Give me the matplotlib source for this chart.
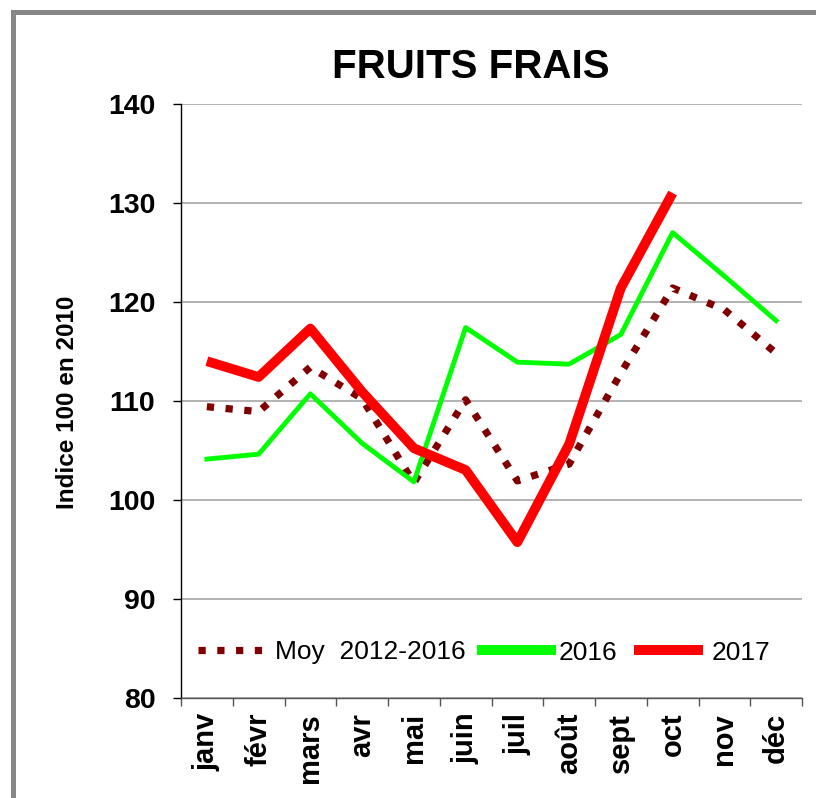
import numpy as np
import matplotlib
matplotlib.use("Agg")
import matplotlib.pyplot as plt
from matplotlib.patches import Rectangle

plt.rcParams['font.family'] = ['Liberation Sans', 'DejaVu Sans']

months = ["janv", "févr", "mars", "avr", "mai", "juin",
          "juil", "août", "sept", "oct", "nov", "déc"]
moy_2012_2016 = [109.4, 108.9, 113.4, 110.2, 101.7, 110.1,
                 101.9, 103.6, 112.8, 121.4, 119.2, 114.8]
val_2016 = [104.1, 104.6, 110.7, 105.7, 101.8, 117.4,
            113.9, 113.7, 116.7, 127.0, 122.6, 118.1]
val_2017 = [114.0, 112.4, 117.3, 110.9, 105.2, 103.0,
            95.7, 105.6, 121.4, 131.0]

x_all = np.arange(1, len(months) + 1)

fig = plt.figure(figsize=(8.16, 7.98), dpi=100)
ax = fig.add_axes([181 / 816, 100.5 / 798, 621 / 816, 593.5 / 798])

# outer frame (cropped chart border)
fig.patches.append(Rectangle((12.5 / 816, -0.1), 1.2, 1.1 - 12 / 798,
                             transform=fig.transFigure, fill=False,
                             edgecolor="#878787", linewidth=3.6))

ax.plot(x_all, moy_2012_2016, color="#800000", linewidth=5.2,
        linestyle=(0, (1.0, 1.6)), dash_capstyle="butt",
        label="Moy  2012-2016", zorder=3)
ax.plot(x_all, val_2016, color="#00ff00", linewidth=3.5,
        label="2016", zorder=4)
ax.plot(x_all[:len(val_2017)], val_2017, color="#ff0000", linewidth=7,
        solid_joinstyle="round", solid_capstyle="butt",
        label="2017", zorder=5)

ax.set_xlim(0.5, 12.5)
ax.set_ylim(80, 140)
ax.set_yticks(np.arange(80, 141, 10))
ax.yaxis.grid(True, color="#a6a6a6", linewidth=1.2)
ax.set_axisbelow(True)

ax.set_xticks(np.arange(0.5, 12.6, 1))
ax.set_xticklabels([])
ax.set_xticks(x_all, minor=True)
ax.set_xticklabels(months, minor=True, rotation=90, fontsize=21,
                   fontweight="bold")
ax.tick_params(axis="x", which="major", length=6, width=1, color="#555555",
               direction="out")
ax.tick_params(axis="x", which="minor", length=0, pad=11)
ax.tick_params(axis="y", length=6, width=1, pad=12.5, labelsize=20.5)
for lab in ax.get_yticklabels():
    lab.set_fontweight("bold")

for side in ["top", "right"]:
    ax.spines[side].set_visible(False)
ax.spines["left"].set_color("black")
ax.spines["left"].set_linewidth(1.0)
ax.spines["bottom"].set_color("#555555")
ax.spines["bottom"].set_linewidth(1.0)

fig.text(67 / 816, 1 - 402.5 / 798, "Indice 100 en 2010", rotation=90,
         ha="center", va="center", fontsize=17.5, fontweight="bold")
fig.text(471 / 816, 1 - 78 / 798, "FRUITS FRAIS", ha="center",
         va="baseline", fontsize=29, fontweight="bold")

leg = ax.legend(loc="center left", bbox_to_anchor=(17 / 621, 45 / 593.5),
                ncol=3, frameon=False, fontsize=19, handlelength=2.6,
                handletextpad=0.32, columnspacing=0.62, borderpad=0,
                borderaxespad=0)
for h in leg.get_lines()[1:]:
    h.set_linewidth(7.2)

fig.savefig("out.png", dpi=100)
